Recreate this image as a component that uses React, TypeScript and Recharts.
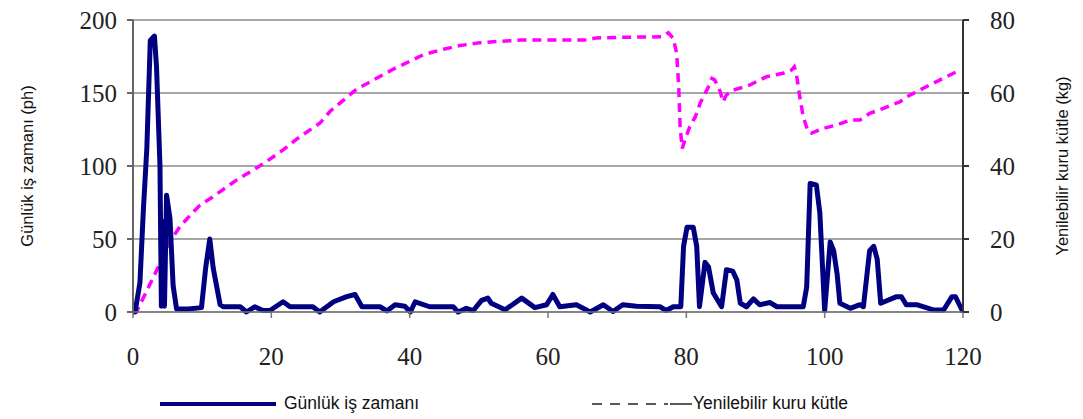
import { CartesianGrid, Line, LineChart, XAxis, YAxis } from "recharts";

// Günlük iş zamanı (ph) – left axis
const workDays = [
  0, 0.3, 1, 1.5, 2, 2.5, 3.1, 3.4, 3.9, 4.1, 4.35, 4.55, 4.85, 5.35, 5.8, 6.3,
  8, 9.9, 10.5, 11.1, 11.6, 12.6, 13.1, 15.5, 16.4, 17.6, 18.8, 19.8, 21.7,
  22.7, 26, 27, 29, 30.9, 32.1, 33.1, 35.7, 36.7, 37.9, 39.3, 40.1, 40.8, 42.9,
  46.3, 47, 48.2, 49.2, 50.4, 51.3, 51.8, 53.8, 56.2, 58.1, 59.8, 60.7, 61.7,
  64.1, 66.1, 68, 69.4, 70.8, 72.8, 76.2, 77.1, 78.1, 79.2, 79.6, 80.1, 81,
  81.5, 81.9, 82.7, 83.2, 83.9, 85.1, 85.8, 86.7, 87.3, 87.8, 88.7, 89.7, 90.6,
  92.1, 93.1, 96.9, 97.4, 97.9, 98.8, 99.3, 100, 100.8, 101.3, 101.8, 102.2,
  103.7, 105.1, 105.6, 106.5, 107.1, 107.6, 108.1, 110.4, 111.1, 111.8, 113.3,
  115.7, 117.2, 118.4, 118.9, 120,
];
const workHours = [
  0, 0, 20, 70, 112, 186, 189, 168, 100, 4, 62, 4, 80, 64, 18, 2,
  2, 3, 30, 50, 30, 5, 3.6, 3.6, 0, 3.6, 1, 1, 7,
  3.6, 3.6, 0, 7, 10.5, 12, 3.6, 3.6, 0.7, 5, 4, 0, 7, 3.6,
  3.6, 0, 2.5, 1, 8, 9.5, 6, 1.5, 9.5, 3, 5, 12, 3.6,
  5, 0, 5, 0.3, 5, 4, 3.6, 1, 3.6, 3.6, 45, 58, 58,
  45, 3.6, 34, 31, 13, 3.6, 29, 28, 22, 6, 3.6, 9, 5,
  6.5, 3.6, 3.6, 17, 88, 87, 68, 1, 48, 42, 26, 6,
  2.5, 5, 3.6, 42, 45, 36, 6, 10.5, 10.5, 5, 5,
  1.4, 1.4, 10.5, 10.5, 0,
];

// Yenilebilir kuru kütle (kg) – right axis
const massDays = [
  0, 0.5, 2.5, 3.9, 5.3, 6.8, 8.5, 9.7, 11.6, 12.6, 15, 17.4, 18.9, 21.7, 24.1,
  27, 28.5, 32.3, 37.6, 42, 44.9, 47.3, 50.2, 56, 65.6, 67, 71.9, 76.5, 77.4,
  78.1, 78.6, 78.9, 79.1, 79.4, 79.8, 80.5, 81.3, 82, 83.2, 83.7, 84.1, 84.9,
  85.3, 85.8, 86.8, 89.2, 91.6, 94, 95.2, 95.6, 95.9, 96.4, 96.9, 97.6, 98.1,
  99.8, 101.7, 103.7, 105.1, 106.5, 108.5, 110.9, 111.9, 115.2, 119.6,
];
const massKg = [
  0, 0, 7.8, 13.3, 19.3, 23.4, 27, 29.3, 31.6, 33, 36.2, 38.9, 40.7, 44.4, 48,
  51.7, 55, 61, 66.5, 70.5, 72, 73, 73.8, 74.5, 74.5, 75.1, 75.3, 75.4, 76.5,
  75, 70.9, 61.7, 50.8, 44.8, 47.1, 50.8, 53.5, 57.2, 61.7, 64, 63.6, 60.4,
  57.6, 59.5, 60.8, 62.2, 64.5, 65.4, 66.3, 67.2, 65.4, 59, 53.5, 49.4, 49,
  50.3, 51.2, 52.6, 52.6, 54.4, 55.8, 57.6, 59, 62.2, 66.3,
];

const leftTicks = [0, 50, 100, 150, 200];
const rightTicks = [0, 20, 40, 60, 80];
const dayTicks = [0, 20, 40, 60, 80, 100, 120];

const workData = workDays.map((day, i) => ({ day, hours: workHours[i] }));
const massData = massDays.map((day, i) => ({ day, mass: massKg[i] }));

const serif = "Liberation Serif, DejaVu Serif, serif";
const sans = "Liberation Sans, Arial, sans-serif";

// tick labels are big (the original uses a serif face)
const renderTick = (side: string) => (props: any) => {
  const { x, y, payload } = props;
  let dx = 0;
  let dy = 0;
  let anchor: "end" | "start" | "middle" = "middle";
  if (side === "left") {
    dx = -4;
    anchor = "end";
  } else if (side === "right") {
    dx = 15;
    anchor = "start";
  } else {
    dy = 36;
  }
  return (
    <text
      x={x + dx}
      y={y + dy}
      textAnchor={anchor}
      dominantBaseline="central"
      style={{ fontFamily: serif, fontSize: 25, fill: "#222" }}
    >
      {payload.value}
    </text>
  );
};

function AxisTitle({ viewBox, value, side }: any) {
  const { x, y, width, height } = viewBox ?? {};
  const cx = side === "left" ? x + 27 : x + width - 21;
  const cy = y + height / 2;
  return (
    <text
      x={cx}
      y={cy}
      transform={`rotate(-90, ${cx}, ${cy})`}
      textAnchor="middle"
      dominantBaseline="central"
      style={{ fontFamily: sans, fontSize: 16.5, fill: "#111" }}
    >
      {value}
    </text>
  );
}

export default function App() {
  return (
    <div style={{ position: "absolute", left: 0, top: 0, width: 1083, height: 419, background: "#fff" }}>
      <LineChart
        width={1083}
        height={419}
        margin={{ top: 20, right: 0, bottom: 57, left: 0 }}
      >
        <CartesianGrid
          yAxisId="left"
          vertical={false}
          stroke="#8a8a8a"
          strokeWidth={1.5}
        />
        <XAxis
          type="number"
          dataKey="day"
          domain={[0, 120]}
          ticks={dayTicks}
          height={50}
          tick={renderTick("bottom")}
          tickSize={6}
          stroke="#777"
          strokeWidth={1.5}
          allowDataOverflow
        />
        <YAxis
          yAxisId="left"
          domain={[0, 200]}
          ticks={leftTicks}
          width={133}
          tick={renderTick("left")}
          tickSize={6}
          tickMargin={6}
          stroke="#666"
          strokeWidth={2}
          label={<AxisTitle value="Günlük iş zamanı (ph)" side="left" />}
        />
        <YAxis
          yAxisId="right"
          orientation="right"
          domain={[0, 80]}
          ticks={rightTicks}
          width={120}
          tick={renderTick("right")}
          tickSize={6}
          tickMargin={6}
          stroke="#333"
          strokeWidth={2}
          label={<AxisTitle value="Yenilebilir  kuru kütle (kg)" side="right" />}
        />
        <Line
          yAxisId="right"
          data={massData}
          dataKey="mass"
          type="linear"
          stroke="#ff00ff"
          strokeWidth={3.5}
          strokeDasharray="9 6"
          dot={false}
          isAnimationActive={false}
        />
        <Line
          yAxisId="left"
          data={workData}
          dataKey="hours"
          type="linear"
          stroke="#000080"
          strokeWidth={5}
          strokeLinejoin="round"
          dot={false}
          isAnimationActive={false}
        />
      </LineChart>
      <div style={{ position: "absolute", left: 0, top: 388, width: 1083, height: 30 }}>
        <svg width={1083} height={30} style={{ position: "absolute", left: 0, top: 0 }}>
          <line x1={160} x2={276} y1={16} y2={16} stroke="#000080" strokeWidth={4} />
          <line x1={592} x2={668} y1={16} y2={16} stroke="#222" strokeWidth={1.5} strokeDasharray="10 8" />
          <line x1={670} x2={692} y1={16} y2={16} stroke="#222" strokeWidth={1.5} />
        </svg>
        <span style={{ position: "absolute", left: 284, top: 5, fontFamily: sans, fontSize: 17.5, color: "#111" }}>
          Günlük iş zamanı
        </span>
        <span style={{ position: "absolute", left: 693, top: 5, fontFamily: sans, fontSize: 17.5, color: "#111" }}>
          Yenilebilir kuru kütle
        </span>
      </div>
    </div>
  );
}
